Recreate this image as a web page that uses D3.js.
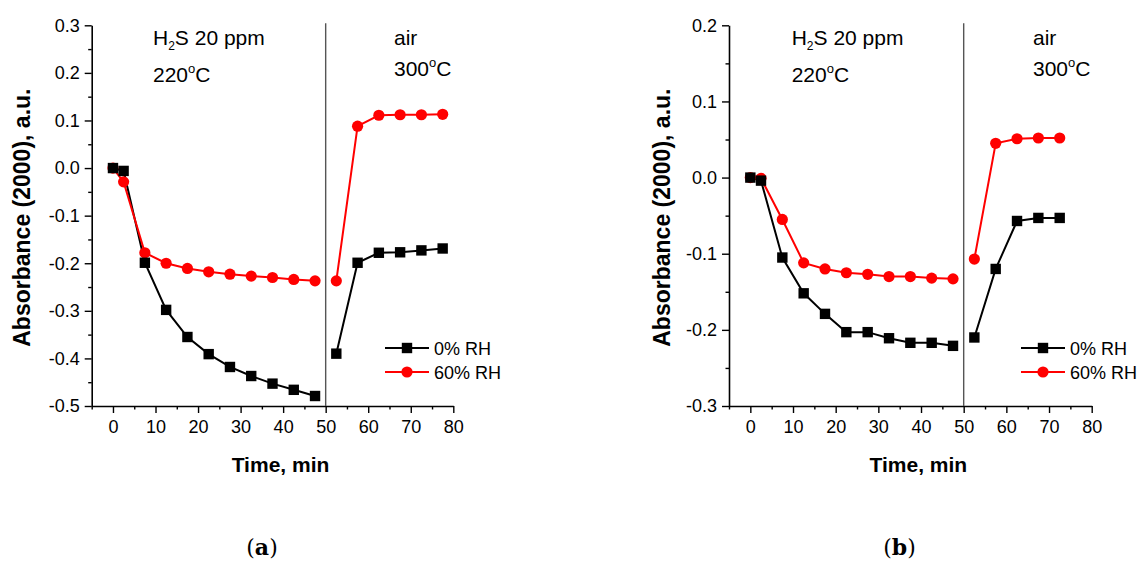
<!DOCTYPE html>
<html>
<head>
<meta charset="utf-8">
<script src="https://cdn.jsdelivr.net/npm/d3@7"></script>
<style>
  html, body { margin: 0; padding: 0; background: #fff; }
  svg { display: block; }
  text { font-family: "Liberation Sans", Arial, sans-serif; fill: #000; }
</style>
</head>
<body>
<svg id="chart" width="1145" height="561"></svg>
<script>
// ---------------- data ----------------
const gasTime = [0, 2.5, 7.5, 12.5, 17.5, 22.5, 27.5, 32.5, 37.5, 42.5, 47.5];
const airTimeA = [52.5, 57.5, 62.5, 67.5, 72.5, 77.5];
const airTimeB = [52.5, 57.5, 62.5, 67.5, 72.5];

// panel (a)
const dryGasA   = [0, -0.006, -0.199, -0.298, -0.355, -0.391, -0.418, -0.437, -0.453, -0.466, -0.479];
const humidGasA = [0, -0.029, -0.178, -0.200, -0.211, -0.218, -0.223, -0.227, -0.230, -0.234, -0.237];
const dryAirA   = [-0.390, -0.199, -0.178, -0.177, -0.173, -0.169];
const humidAirA = [-0.237, 0.088, 0.111, 0.112, 0.112, 0.113];

// panel (b)
const dryGasB   = [0, -0.004, -0.105, -0.152, -0.179, -0.203, -0.203, -0.211, -0.217, -0.217, -0.221];
const humidGasB = [0, -0.001, -0.055, -0.112, -0.120, -0.125, -0.127, -0.130, -0.130, -0.132, -0.133];
const dryAirB   = [-0.210, -0.120, -0.057, -0.053, -0.053];
const humidAirB = [-0.107, 0.045, 0.051, 0.052, 0.052];

const xTicks = [0, 10, 20, 30, 40, 50, 60, 70, 80];
const xMinorTicks = [-5, 5, 15, 25, 35, 45, 55, 65, 75];
const yTicksA = [-0.5, -0.4, -0.3, -0.2, -0.1, 0.0, 0.1, 0.2, 0.3];
const yMinorA = [-0.45, -0.35, -0.25, -0.15, -0.05, 0.05, 0.15, 0.25];
const yTicksB = [-0.3, -0.2, -0.1, 0.0, 0.1, 0.2];
const yMinorB = [-0.25, -0.15, -0.05, 0.05, 0.15];

const seriesNames = ["0% RH", "60% RH"];
const xTitle = "Time, min";
const yTitle = "Absorbance (2000), a.u.";
const gasLabel = ["H", "2", "S 20 ppm"];
const gasTemp = "220";
const airLabel = "air";
const airTemp = "300";
const switchTime = 50;
const xDomain = [-5, 80];

// ---------------- drawing ----------------
const svg = d3.select("#chart");
const RED = "#ff0000";

function drawPanel(p) {
  const g = svg.append("g");
  const x = d3.scaleLinear().domain(xDomain).range([p.left, p.right]);
  const y = d3.scaleLinear().domain(p.yDomain).range([p.bottom, p.top]);

  // minor ticks
  g.append("g").attr("transform", `translate(0,${p.bottom})`)
    .call(d3.axisBottom(x).tickValues(xMinorTicks).tickSize(3.5).tickFormat(""))
    .call(s => s.select(".domain").remove())
    .call(s => s.selectAll("line").attr("stroke-width", 1.4));
  g.append("g").attr("transform", `translate(${p.left},0)`)
    .call(d3.axisLeft(y).tickValues(p.yMinor).tickSize(3.5).tickFormat(""))
    .call(s => s.select(".domain").remove())
    .call(s => s.selectAll("line").attr("stroke-width", 1.4));

  // major axes
  const xa = g.append("g").attr("transform", `translate(0,${p.bottom})`)
    .call(d3.axisBottom(x).tickValues(xTicks).tickSize(7).tickSizeOuter(0).tickPadding(7).tickFormat(d3.format("d")));
  const ya = g.append("g").attr("transform", `translate(${p.left},0)`)
    .call(d3.axisLeft(y).tickValues(p.yTicks).tickSize(7).tickSizeOuter(0).tickPadding(5).tickFormat(d => d.toFixed(1)));
  [xa, ya].forEach(a => {
    a.select(".domain").attr("stroke-width", 1.6);
    a.selectAll(".tick line").attr("stroke-width", 1.4);
    a.selectAll("text").style("font-size", "18px").style("font-family", "Liberation Sans, Arial, sans-serif").attr("fill", "#111");
  });

  // separator line
  g.append("line")
    .attr("x1", x(switchTime)).attr("x2", x(switchTime))
    .attr("y1", p.top - 2).attr("y2", p.bottom)
    .attr("stroke", "#555").attr("stroke-width", 1.4);

  // series
  const line = d3.line().x(d => x(d[0])).y(d => y(d[1]));
  const zip = (t, v) => t.map((tt, i) => [tt, v[i]]);
  const series = [
    { color: "#000", shape: "square", segs: [zip(gasTime, p.dryGas), zip(p.airTime, p.dryAir)] },
    { color: RED, shape: "circle", segs: [zip(gasTime, p.humidGas), zip(p.airTime, p.humidAir)] }
  ];
  series.forEach(s => {
    s.segs.forEach(seg => {
      g.append("path").datum(seg).attr("d", line)
        .attr("fill", "none").attr("stroke", s.color).attr("stroke-width", 2);
    });
  });
  series.slice().reverse().forEach(s => {
    s.segs.forEach(seg => {
      if (s.shape === "square") {
        g.selectAll(null).data(seg).enter().append("rect")
          .attr("x", d => x(d[0]) - 5.2).attr("y", d => y(d[1]) - 5.2)
          .attr("width", 10.4).attr("height", 10.4).attr("fill", s.color);
      } else {
        g.selectAll(null).data(seg).enter().append("circle")
          .attr("cx", d => x(d[0])).attr("cy", d => y(d[1]))
          .attr("r", 5.6).attr("fill", s.color);
      }
    });
  });

  // legend
  const lx = p.legendX, ly = [348, 372];
  series.forEach((s, i) => {
    g.append("line").attr("x1", lx).attr("x2", lx + 44).attr("y1", ly[i]).attr("y2", ly[i])
      .attr("stroke", s.color).attr("stroke-width", 2);
    if (s.shape === "square") {
      g.append("rect").attr("x", lx + 22 - 5.2).attr("y", ly[i] - 5.2).attr("width", 10.4).attr("height", 10.4).attr("fill", s.color);
    } else {
      g.append("circle").attr("cx", lx + 22).attr("cy", ly[i]).attr("r", 5.6).attr("fill", s.color);
    }
    g.append("text").attr("x", lx + 49).attr("y", ly[i] + 6.5)
      .style("font-size", "18px").attr("fill", "#111").text(seriesNames[i]);
  });

  // annotations
  const t1 = g.append("text").attr("x", p.gasX).attr("y", 45).style("font-size", "21px");
  t1.append("tspan").text(gasLabel[0]);
  t1.append("tspan").attr("dy", 5).style("font-size", "12px").text(gasLabel[1]);
  t1.append("tspan").attr("dy", -5).text(gasLabel[2]);
  const t2 = g.append("text").attr("x", p.gasX).attr("y", 82).style("font-size", "21px");
  t2.append("tspan").text(gasTemp);
  t2.append("tspan").attr("dy", -9).style("font-size", "13px").text("o");
  t2.append("tspan").attr("dy", 9).text("C");
  g.append("text").attr("x", p.airX).attr("y", 45).style("font-size", "21px").text(airLabel);
  const t3 = g.append("text").attr("x", p.airX).attr("y", 76).style("font-size", "21px");
  t3.append("tspan").text(airTemp);
  t3.append("tspan").attr("dy", -9).style("font-size", "13px").text("o");
  t3.append("tspan").attr("dy", 9).text("C");

  // axis titles
  g.append("text").attr("x", (p.left + p.right) / 2 + 8).attr("y", 472)
    .attr("text-anchor", "middle").style("font-size", "21px").style("font-weight", "bold").text(xTitle);
  g.append("text").attr("transform", `translate(${p.yTitleX},${(p.top + p.bottom) / 2 + 2}) rotate(-90)`)
    .attr("text-anchor", "middle").style("font-size", "23px").style("font-weight", "bold").text(yTitle);

  // panel label
  const pl = svg.append("text").attr("x", p.labelX).attr("y", 555).attr("text-anchor", "middle")
    .style("font-family", "'DejaVu Serif', 'Liberation Serif', serif").style("font-size", "22px");
  pl.append("tspan").text("(");
  pl.append("tspan").style("font-weight", "bold").text(p.label);
  pl.append("tspan").text(")");
}

drawPanel({
  left: 91.7, right: 453.3, top: 25.3, bottom: 406,
  yDomain: [-0.5, 0.3], yTicks: yTicksA, yMinor: yMinorA,
  dryGas: dryGasA, humidGas: humidGasA, airTime: airTimeA, dryAir: dryAirA, humidAir: humidAirA,
  legendX: 385, gasX: 153, airX: 394, yTitleX: 30, labelX: 262, label: "a"
});
drawPanel({
  left: 729, right: 1091.7, top: 25.3, bottom: 406,
  yDomain: [-0.3, 0.2], yTicks: yTicksB, yMinor: yMinorB,
  dryGas: dryGasB, humidGas: humidGasB, airTime: airTimeB, dryAir: dryAirB, humidAir: humidAirB,
  legendX: 1021, gasX: 791.7, airX: 1033, yTitleX: 670, labelX: 899.5, label: "b"
});
</script>
</body>
</html>
